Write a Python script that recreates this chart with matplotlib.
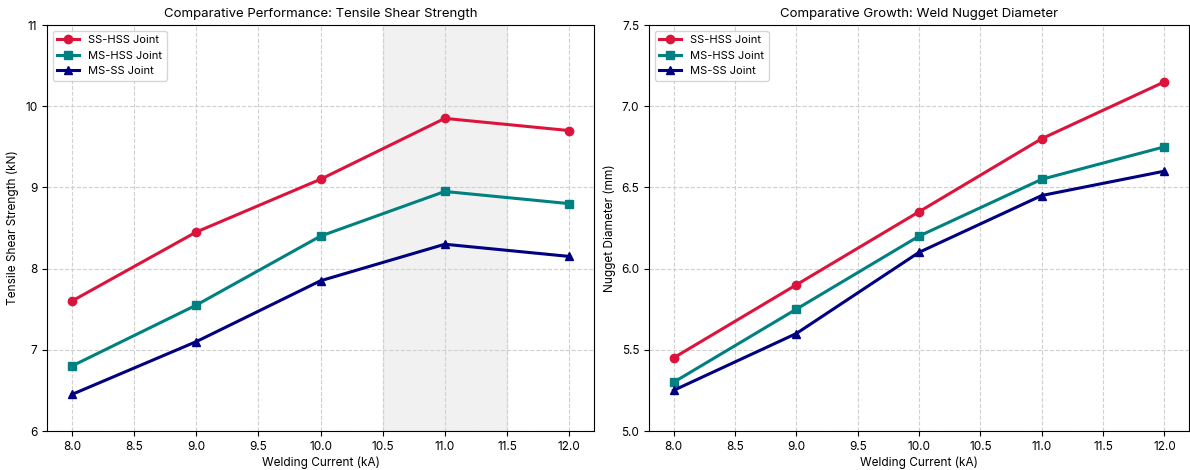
import matplotlib
matplotlib.use("Agg")
import matplotlib.pyplot as plt

plt.rcParams['font.family'] = ['Inter', 'DejaVu Sans']

currents = [8.0, 9.0, 10.0, 11.0, 12.0]
series_names = ["SS-HSS Joint", "MS-HSS Joint", "MS-SS Joint"]
strength_ss_hss = [7.6, 8.45, 9.1, 9.85, 9.7]
strength_ms_hss = [6.8, 7.55, 8.4, 8.95, 8.8]
strength_ms_ss = [6.45, 7.1, 7.85, 8.3, 8.15]
nugget_ss_hss = [5.45, 5.9, 6.35, 6.8, 7.15]
nugget_ms_hss = [5.3, 5.75, 6.2, 6.55, 6.75]
nugget_ms_ss = [5.25, 5.6, 6.1, 6.45, 6.6]

colors = ["#DC143C", "#008080", "#000080"]
markers = ["o", "s", "^"]

fig = plt.figure(figsize=(11.9, 4.7), dpi=100)
ax1 = fig.add_axes([47/1190, 39/470, 547/1190, 406/470])
ax2 = fig.add_axes([649/1190, 39/470, 540/1190, 406/470])

for ax, data, title, ylabel, ylim in [
    (ax1, [strength_ss_hss, strength_ms_hss, strength_ms_ss],
     "Comparative Performance: Tensile Shear Strength", "Tensile Shear Strength (kN)", (6, 11)),
    (ax2, [nugget_ss_hss, nugget_ms_hss, nugget_ms_ss],
     "Comparative Growth: Weld Nugget Diameter", "Nugget Diameter (mm)", (5.0, 7.5)),
]:
    for vals, name, c, m in zip(data, series_names, colors, markers):
        ax.plot(currents, vals, color=c, marker=m, lw=2.2, ms=6, label=name)
    ax.set_title(title, fontsize=9.5)
    ax.set_xlabel("Welding Current (kA)", fontsize=8.5, labelpad=3)
    ax.set_ylabel(ylabel, fontsize=8.5)
    ax.set_ylim(*ylim)
    ax.set_xlim(7.8, 12.2)
    ax.set_xticks([8.0, 8.5, 9.0, 9.5, 10.0, 10.5, 11.0, 11.5, 12.0])
    ax.grid(True, ls='--', color='#d0d0d0', lw=0.8)
    ax.tick_params(labelsize=8.5)
    ax.legend(loc='upper left', fontsize=8)

ax1.axvspan(10.5, 11.5, color='#dcdcdc', alpha=0.4, zorder=0)
ax1.set_yticks([6, 7, 8, 9, 10, 11])
ax2.set_yticks([5.0, 5.5, 6.0, 6.5, 7.0, 7.5])

fig.savefig("out.png", dpi=100)
